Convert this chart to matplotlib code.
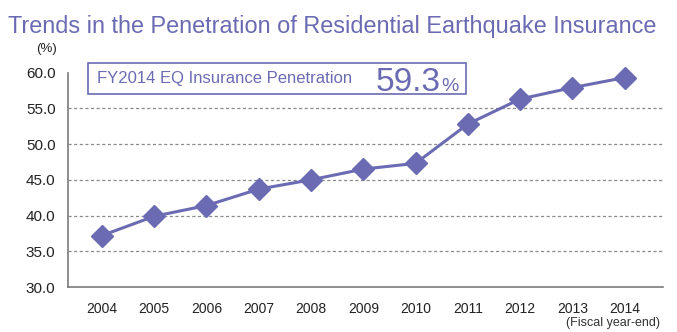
import matplotlib

matplotlib.use("Agg")
import matplotlib.pyplot as plt

plt.rcParams["font.family"] = ["Liberation Sans", "DejaVu Sans"]

# penetration rate (%) by fiscal year
years = ["2004", "2005", "2006", "2007", "2008", "2009",
         "2010", "2011", "2012", "2013", "2014"]
penetration = [37.2, 39.9, 41.4, 43.7, 45.0, 46.5, 47.3, 52.8, 56.3, 57.9, 59.3]
yticks = [30.0, 35.0, 40.0, 45.0, 50.0, 55.0, 60.0]

PURPLE = "#6b6bb3"
GREY = "#7a7a7a"

fig = plt.figure(figsize=(6.77, 3.32), dpi=100)
ax = fig.add_axes([0.1004, 0.1355, 0.8786, 0.6458])

xs = range(len(years))
ax.plot(xs, penetration, color=PURPLE, lw=2.2, marker="D", ms=11,
        mfc=PURPLE, mec=PURPLE, zorder=3, clip_on=False)

ax.set_xlim(-0.65, 10.73)
ax.set_ylim(30, 60)
ax.set_yticks(yticks)
ax.set_yticklabels([f"{v:.1f}" for v in yticks], fontsize=11, color="#222222")
ax.set_xticks(list(xs))
ax.set_xticklabels(years, fontsize=10, color="#222222")
ax.tick_params(axis="both", length=0)
ax.tick_params(axis="y", pad=9)
ax.tick_params(axis="x", pad=11)

# dashed guides between the end values
for v in yticks[1:-1]:
    ax.axhline(v, color="#8a8a8a", lw=0.9, ls=(0, (2.5, 2)), zorder=1)

for side in ("top", "right"):
    ax.spines[side].set_visible(False)
for side in ("left", "bottom"):
    ax.spines[side].set_color(GREY)
    ax.spines[side].set_linewidth(1.2)

fig.text(0.012, 1 - 33 / 332, "Trends in the Penetration of Residential Earthquake Insurance",
         fontsize=16.9, color=PURPLE, va="baseline")
fig.text(0.053, 0.853, "(%)", fontsize=9.5, color="#222222", va="center")
fig.text(0.975, 0.028, "(Fiscal year-end)", fontsize=9, color="#333333",
         ha="right", va="center")

# highlight box for the latest year
box = plt.Rectangle((87.5 / 677, 1 - 94 / 332), (466 - 87.5) / 677, 31 / 332,
                    transform=fig.transFigure, fill=True, fc="white",
                    ec=PURPLE, lw=1.2, zorder=5)
fig.add_artist(box)
fig.text(97 / 677, 1 - 79 / 332, f"FY{years[-1]} EQ Insurance Penetration",
         fontsize=12, color=PURPLE, va="center", zorder=6)
fig.text(376 / 677, 1 - 91 / 332, f"{penetration[-1]:.1f}", fontsize=24,
         color=PURPLE, va="baseline", zorder=6)
fig.text(441 / 677, 1 - 91 / 332, "%", fontsize=14, color=PURPLE,
         va="baseline", zorder=6)

fig.savefig("out.png", dpi=100)
